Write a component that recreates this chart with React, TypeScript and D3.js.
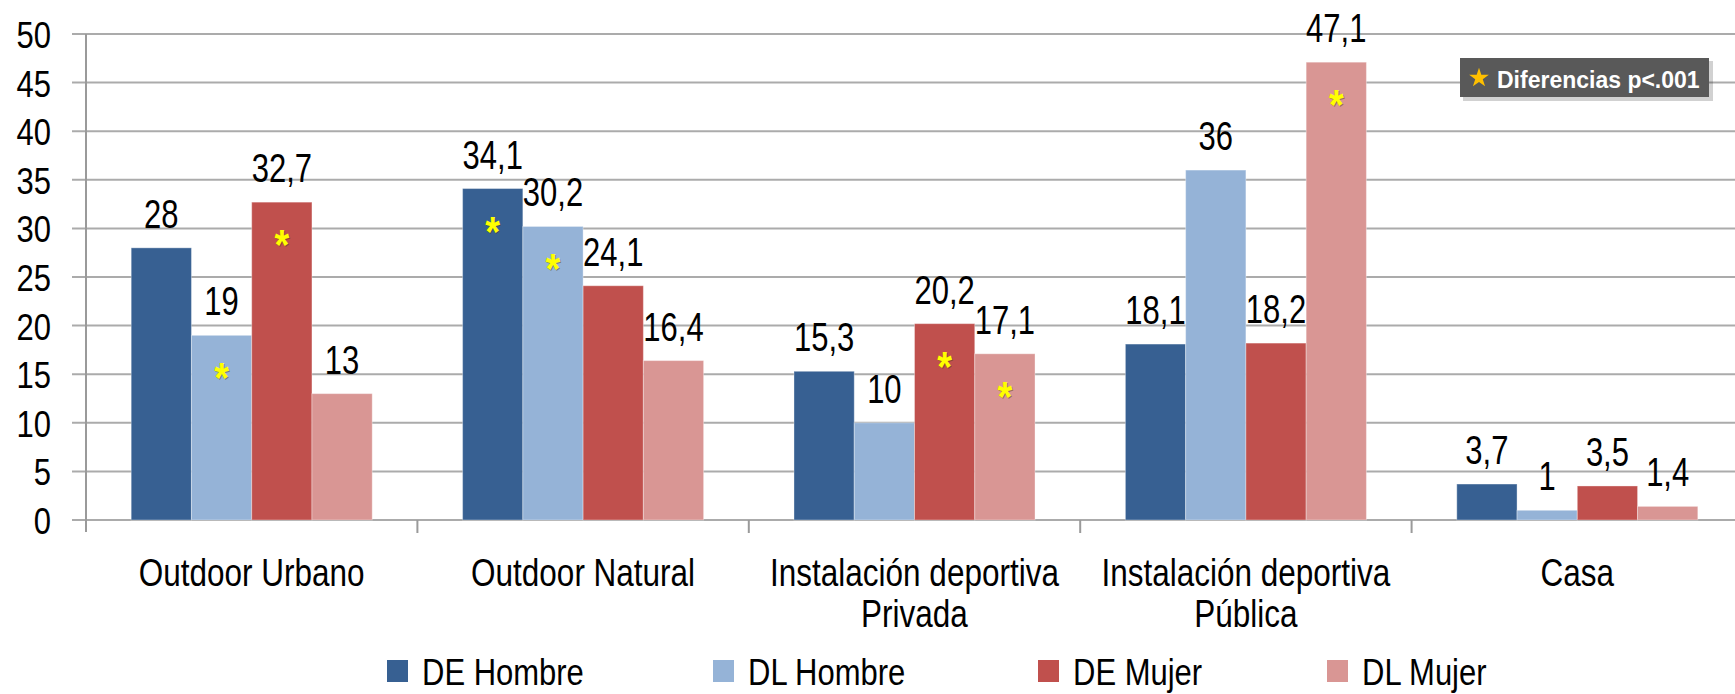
import React from "react";
import * as d3 from "d3";

const categories: string[][] = [
  ["Outdoor Urbano"],
  ["Outdoor Natural"],
  ["Instalación deportiva", "Privada"],
  ["Instalación deportiva", "Pública"],
  ["Casa"],
];
const seriesNames = ["DE Hombre", "DL Hombre", "DE Mujer", "DL Mujer"];
const seriesColors = ["#376092", "#95B3D7", "#C0504D", "#D99694"];
const deHombre = [28, 34.1, 15.3, 18.1, 3.7];
const dlHombre = [19, 30.2, 10, 36, 1];
const deMujer = [32.7, 24.1, 20.2, 18.2, 3.5];
const dlMujer = [13, 16.4, 17.1, 47.1, 1.4];
// significance markers (p<.001) per series per category
const sigDeHombre = [false, true, false, false, false];
const sigDlHombre = [true, true, false, false, false];
const sigDeMujer = [true, false, true, false, false];
const sigDlMujer = [false, false, true, true, false];
const yTicks = [0, 5, 10, 15, 20, 25, 30, 35, 40, 45, 50];
const noteLabel = "Diferencias p<.001";

const seriesValues = [deHombre, dlHombre, deMujer, dlMujer];
const seriesSig = [sigDeHombre, sigDlHombre, sigDeMujer, sigDlMujer];

const FONT = "'Liberation Sans', Arial, Helvetica, sans-serif";

function SText(props: {
  x: number;
  y: number;
  k: number;
  size: number;
  anchor?: string;
  fill?: string;
  weight?: string;
  children: React.ReactNode;
}) {
  const { x, y, k, size, anchor = "middle", fill = "#000", weight = "normal", children } = props;
  return (
    <text
      transform={`translate(${x},${y}) scale(1,${k})`}
      textAnchor={anchor}
      fontFamily={FONT}
      fontSize={size}
      fontWeight={weight}
      fill={fill}
    >
      {children}
    </text>
  );
}

export default function App() {
  const W = 1735;
  const H = 694;
  const left = 86;
  const catW = 331.4;
  const x0 = d3
    .scaleBand<number>()
    .domain(categories.map((_, i) => i))
    .range([left, left + catW * categories.length])
    .padding(0);
  const x1 = d3
    .scaleBand<number>()
    .domain(seriesNames.map((_, i) => i))
    .range([0, x0.bandwidth()])
    .paddingInner(0)
    .paddingOuter(0.75);
  const y = d3.scaleLinear().domain([0, 50]).range([520, 34]);
  const fmt = (v: number) => String(v).replace(".", ",");

  const legendX = [387, 713, 1038, 1327];
  const star = d3.symbol().type(d3.symbolStar).size(120)() as string;

  return (
    <svg
      width={W}
      height={H}
      style={{ position: "absolute", left: 0, top: 0, background: "#fff" }}
    >
      <rect x={0} y={0} width={W} height={H} fill="#fff" />
      {/* gridlines + y ticks */}
      {yTicks.map((t) => (
        <g key={t}>
          <line x1={72} x2={W} y1={y(t)} y2={y(t)} stroke="#ababab" strokeWidth={2} />
          <SText x={51} y={y(t) + 14} k={1.22} size={31} anchor="end">
            {t}
          </SText>
        </g>
      ))}
      {/* y axis */}
      <line x1={left} x2={left} y1={y(50)} y2={y(0) + 12} stroke="#9a9a9a" strokeWidth={2} />
      {/* category ticks */}
      {categories.map((_, i) => (
        <line
          key={i}
          x1={x0(i)! + catW}
          x2={x0(i)! + catW}
          y1={y(0)}
          y2={y(0) + 13}
          stroke="#9a9a9a"
          strokeWidth={2}
        />
      ))}
      {/* bars */}
      {categories.map((_, ci) =>
        seriesValues.map((vals, si) => {
          const bx = x0(ci)! + x1(si)!;
          const bw = x1.bandwidth();
          const v = vals[ci];
          return (
            <g key={`${ci}-${si}`}>
              <rect
                x={bx}
                y={y(v)}
                width={bw}
                height={y(0) - y(v)}
                fill={seriesColors[si]}
                stroke="rgba(255,255,255,0.35)"
                strokeWidth={1}
              />
              <SText x={bx + bw / 2} y={y(v) - 20} k={1.32} size={31}>
                {fmt(v)}
              </SText>
              {seriesSig[si][ci] && (
                <>
                  <SText
                    x={bx + bw / 2 + 1}
                    y={y(v) + 58}
                    k={1.1}
                    size={38}
                    weight="bold"
                    fill="rgba(80,60,0,0.45)"
                  >
                    *
                  </SText>
                  <SText x={bx + bw / 2} y={y(v) + 57} k={1.1} size={38} weight="bold" fill="#FFFF00">
                    *
                  </SText>
                </>
              )}
            </g>
          );
        })
      )}
      {/* category labels */}
      {categories.map((lines, ci) =>
        lines.map((ln, li) => (
          <SText
            key={`${ci}-${li}`}
            x={x0(ci)! + catW / 2}
            y={586 + li * 41}
            k={1.26}
            size={31.5}
          >
            {ln}
          </SText>
        ))
      )}
      {/* legend */}
      {seriesNames.map((n, i) => (
        <g key={n}>
          <rect x={legendX[i]} y={660} width={21} height={22} fill={seriesColors[i]} />
          <SText x={legendX[i] + 35} y={685} k={1.22} size={31} anchor="start">
            {n}
          </SText>
        </g>
      ))}
      {/* significance note box */}
      <rect x={1463} y={61} width={250} height={40} fill="#000" opacity={0.18} />
      <rect x={1460} y={58} width={249} height={39} fill="#595959" />
      <path d={star} transform="translate(1479,78)" fill="#FFC000" />
      <SText x={1497} y={88} k={1.05} size={23} anchor="start" fill="#fff" weight="bold">
        {noteLabel}
      </SText>
    </svg>
  );
}
